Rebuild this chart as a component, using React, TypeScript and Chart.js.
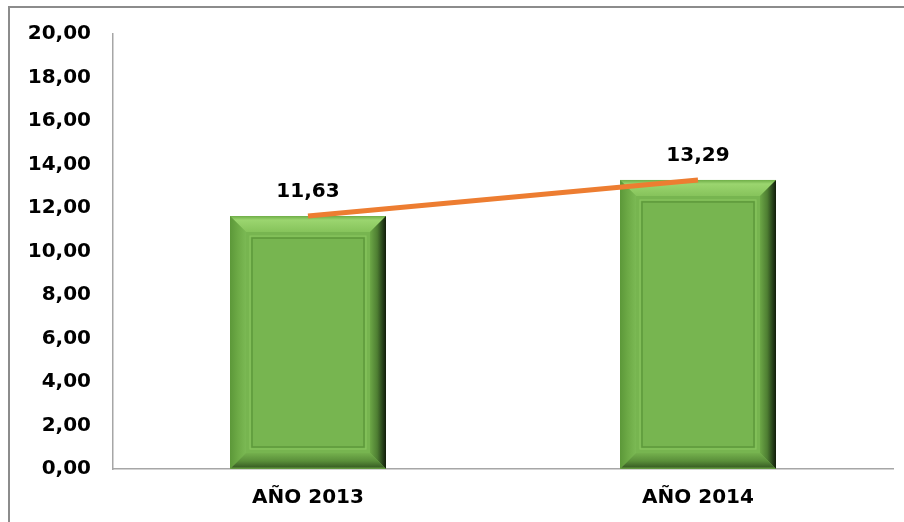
import React, { useEffect, useRef } from "react";
import { Chart, registerables } from "chart.js";

Chart.register(...registerables);

const categories = ["AÑO 2013", "AÑO 2014"];
const barValues = [11.63, 13.29];
const lineValues = [11.63, 13.29];
const yMin = 0;
const yMax = 20;
const yStep = 2;

const fmt = (v: number) => v.toFixed(2).replace(".", ",");

const FONT = "'DejaVu Sans', Verdana, sans-serif";

const bevelPlugin = {
  id: "bevelBars",
  afterDatasetDraw(chart: any, args: any) {
    const ds = chart.data.datasets[args.index];
    if (ds.type !== "bar") return;
    const ctx = chart.ctx;
    const meta = args.meta;
    meta.data.forEach((el: any) => {
      const { x, y, base, width } = el.getProps(["x", "y", "base", "width"], true);
      const L = x - width / 2;
      const R = x + width / 2;
      const T = Math.min(y, base);
      const B = Math.max(y, base);
      const b = 16;
      ctx.save();
      ctx.fillStyle = "#77B550";
      ctx.fillRect(L, T, R - L, B - T);
      let g = ctx.createLinearGradient(0, T, 0, T + b);
      g.addColorStop(0, "#6FAE48");
      g.addColorStop(0.25, "#9BD56F");
      g.addColorStop(1, "#86C35B");
      ctx.fillStyle = g;
      ctx.beginPath();
      ctx.moveTo(L, T); ctx.lineTo(R, T); ctx.lineTo(R - b, T + b); ctx.lineTo(L + b, T + b); ctx.closePath();
      ctx.fill();
      g = ctx.createLinearGradient(L, 0, L + b, 0);
      g.addColorStop(0, "#5C9839");
      g.addColorStop(0.5, "#6DAA46");
      g.addColorStop(1, "#7BB954");
      ctx.fillStyle = g;
      ctx.beginPath();
      ctx.moveTo(L, T); ctx.lineTo(L + b, T + b); ctx.lineTo(L + b, B - b); ctx.lineTo(L, B); ctx.closePath();
      ctx.fill();
      g = ctx.createLinearGradient(R - b, 0, R, 0);
      g.addColorStop(0, "#6CA746");
      g.addColorStop(0.45, "#4E7E32");
      g.addColorStop(0.8, "#26401A");
      g.addColorStop(1, "#111C0A");
      ctx.fillStyle = g;
      ctx.beginPath();
      ctx.moveTo(R, T); ctx.lineTo(R, B); ctx.lineTo(R - b, B - b); ctx.lineTo(R - b, T + b); ctx.closePath();
      ctx.fill();
      g = ctx.createLinearGradient(0, B - b, 0, B);
      g.addColorStop(0, "#74B04D");
      g.addColorStop(0.5, "#5A8F3A");
      g.addColorStop(0.85, "#3D6427");
      g.addColorStop(1, "#6BA545");
      ctx.fillStyle = g;
      ctx.beginPath();
      ctx.moveTo(L, B); ctx.lineTo(R, B); ctx.lineTo(R - b, B - b); ctx.lineTo(L + b, B - b); ctx.closePath();
      ctx.fill();
      const ip = 22;
      ctx.lineWidth = 1.5;
      ctx.strokeStyle = "#5E993B";
      ctx.strokeRect(L + ip, T + ip, R - L - 2 * ip, B - T - 2 * ip);
      ctx.strokeStyle = "#8CC861";
      ctx.lineWidth = 1;
      ctx.strokeRect(L + ip - 2, T + ip - 2, R - L - 2 * ip + 4, B - T - 2 * ip + 4);
      ctx.restore();
    });
  },
};

const labelPlugin = {
  id: "valueLabels",
  afterDatasetsDraw(chart: any) {
    const ctx = chart.ctx;
    chart.data.datasets.forEach((ds: any, i: number) => {
      if (ds.type !== "line") return;
      const meta = chart.getDatasetMeta(i);
      meta.data.forEach((pt: any, j: number) => {
        ctx.save();
        ctx.font = `bold 20px ${FONT}`;
        ctx.fillStyle = "#000000";
        ctx.textAlign = "center";
        ctx.textBaseline = "middle";
        ctx.fillText(fmt(ds.data[j]), pt.x, pt.y - 24);
        ctx.restore();
      });
    });
  },
};

export default function App() {
  const ref = useRef<HTMLCanvasElement>(null);
  useEffect(() => {
    if (!ref.current) return;
    const chart = new Chart(ref.current, {
      type: "bar",
      data: {
        labels: categories,
        datasets: [
          {
            type: "line",
            data: lineValues,
            borderColor: "#ED7D31",
            borderWidth: 5,
            pointRadius: 0,
            fill: false,
          } as any,
          {
            type: "bar",
            data: barValues,
            backgroundColor: "#77B550",
            categoryPercentage: 1,
            barPercentage: 0.4,
          } as any,
        ],
      },
      options: {
        animation: false,
        responsive: false,
        maintainAspectRatio: false,
        layout: { padding: { top: 26, right: 11, bottom: 12, left: 0 } },
        plugins: { legend: { display: false }, tooltip: { enabled: false } },
        scales: {
          x: {
            afterFit: (s: any) => { s.height = 41; },
            grid: { display: false, drawTicks: false },
            border: { display: true, color: "#A6A6A6", width: 1.5 },
            ticks: {
              color: "#000",
              padding: 17,
              font: { family: FONT, size: 20, weight: "bold" },
            },
          },
          y: {
            min: yMin,
            max: yMax,
            afterFit: (s: any) => { s.width = 113; },
            grid: { display: false, drawTicks: false },
            border: { display: true, color: "#A6A6A6", width: 1.5 },
            ticks: {
              stepSize: yStep,
              color: "#000",
              padding: 22,
              font: { family: FONT, size: 20, weight: "bold" },
              callback: (v: any) => fmt(Number(v)),
            },
          },
        },
      },
      plugins: [bevelPlugin, labelPlugin],
    });
    return () => chart.destroy();
  }, []);
  return (
    <div style={{ position: "absolute", left: 0, top: 0, width: 904, height: 522, overflow: "hidden", background: "#fff" }}>
      <div style={{ position: "absolute", left: 8, top: 6, width: 896, height: 2, background: "#8C8C8C" }} />
      <div style={{ position: "absolute", left: 8, top: 6, width: 2, height: 516, background: "#8C8C8C" }} />
      <canvas ref={ref} width={904} height={522} style={{ position: "absolute", left: 0, top: 0, width: 904, height: 522 }} />
    </div>
  );
}
